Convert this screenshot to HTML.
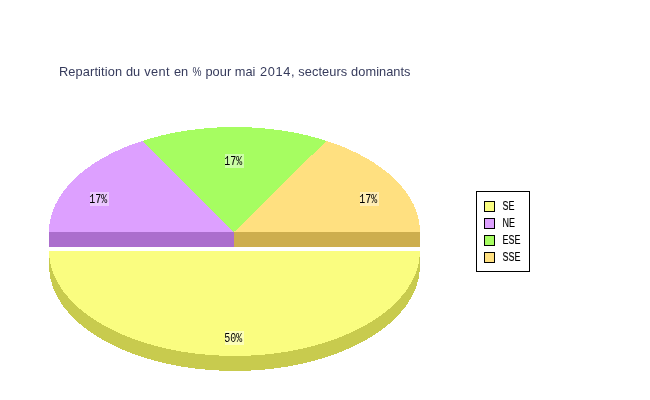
<!DOCTYPE html>
<html><head><meta charset="utf-8"><title>Repartition du vent</title>
<style>
html,body{margin:0;padding:0;background:#fff;}
body{width:650px;height:400px;overflow:hidden;}
svg{display:block;will-change:transform;}
.tt{font-family:"Liberation Sans",sans-serif;font-size:12.8px;fill:#363B5C;}
.lg{font-family:"Liberation Sans",sans-serif;font-size:11.5px;fill:#000;stroke:#000;stroke-width:0.15px;}
.lb{font-family:"Liberation Mono","DejaVu Sans Mono",monospace;font-size:10px;fill:#000;}
</style></head><body>
<svg width="650" height="400" viewBox="0 0 650 400" shape-rendering="crispEdges">
<rect width="650" height="400" fill="#fff"/>
<path d="M49.0,251 A185.5,105 0 0 0 420.0,251 L420.0,266 A185.5,105 0 0 1 49.0,266 Z" fill="#C8CB4E"/>
<path d="M49.0,251 A185.5,105 0 0 0 420.0,251 Z" fill="#FAFD80"/>
<rect x="49.0" y="232" width="185.0" height="15" fill="#AB6ECD"/>
<rect x="234.0" y="232" width="186.0" height="15" fill="#CDAE4E"/>
<path d="M234.0,232 L420.00,232.00 A185.5,105 0 0 0 326.41,140.79 Z" fill="#FFE080"/>
<path d="M234.0,232 L326.41,140.79 A185.5,105 0 0 0 142.59,140.79 Z" fill="#A6FD61"/>
<path d="M234.0,232 L142.59,140.79 A185.5,105 0 0 0 49.00,232.00 Z" fill="#DDA0FF"/>
<rect x="90" y="192" width="19" height="14" fill="#EBC8FF"/><g transform="translate(89.2,203) scale(1,1.3)"><text x="0" y="0" class="lb">17%</text></g>
<rect x="225" y="154" width="19" height="14" fill="#CCFEA6"/><g transform="translate(224.2,165) scale(1,1.3)"><text x="0" y="0" class="lb">17%</text></g>
<rect x="360" y="192" width="19" height="14" fill="#FFEDB5"/><g transform="translate(359.2,203) scale(1,1.3)"><text x="0" y="0" class="lb">17%</text></g>
<rect x="225" y="331" width="19" height="14" fill="#FCFEB8"/><g transform="translate(224.2,342) scale(1,1.3)"><text x="0" y="0" class="lb">50%</text></g>
<rect x="476.5" y="191.5" width="53" height="80" fill="#fff" stroke="#000" stroke-width="1"/>
<rect x="484.5" y="201.5" width="10" height="10" fill="#FAFD80" stroke="#000" stroke-width="1"/>
<g transform="translate(502.6,210.3) scale(0.78,1.04)"><text x="0" y="0" class="lg">SE</text></g>
<rect x="484.5" y="218.5" width="10" height="10" fill="#DDA0FF" stroke="#000" stroke-width="1"/>
<g transform="translate(502.6,227.3) scale(0.78,1.04)"><text x="0" y="0" class="lg">NE</text></g>
<rect x="484.5" y="235.5" width="10" height="10" fill="#A6FD61" stroke="#000" stroke-width="1"/>
<g transform="translate(502.6,244.3) scale(0.78,1.04)"><text x="0" y="0" class="lg">ESE</text></g>
<rect x="484.5" y="252.5" width="10" height="10" fill="#FFE080" stroke="#000" stroke-width="1"/>
<g transform="translate(502.6,261.3) scale(0.78,1.04)"><text x="0" y="0" class="lg">SSE</text></g>
<text y="76" class="tt"><tspan x="59" textLength="63.06" lengthAdjust="spacing">Repartition</tspan> <tspan x="126.06" textLength="14.16" lengthAdjust="spacing">du</tspan> <tspan x="144.2" textLength="25.4" lengthAdjust="spacing">vent</tspan> <tspan x="173.9" textLength="14.16" lengthAdjust="spacing">en</tspan> <tspan x="192.4" textLength="9" lengthAdjust="spacingAndGlyphs">%</tspan> <tspan x="205.4" textLength="25.8" lengthAdjust="spacing">pour</tspan> <tspan x="234.7" textLength="20.67" lengthAdjust="spacing">mai</tspan> <tspan x="260" textLength="34.6" lengthAdjust="spacing">2014,</tspan> <tspan x="298.2" textLength="49" lengthAdjust="spacing">secteurs</tspan> <tspan x="351.1" textLength="59.4" lengthAdjust="spacing">dominants</tspan></text>
</svg>
</body></html>
